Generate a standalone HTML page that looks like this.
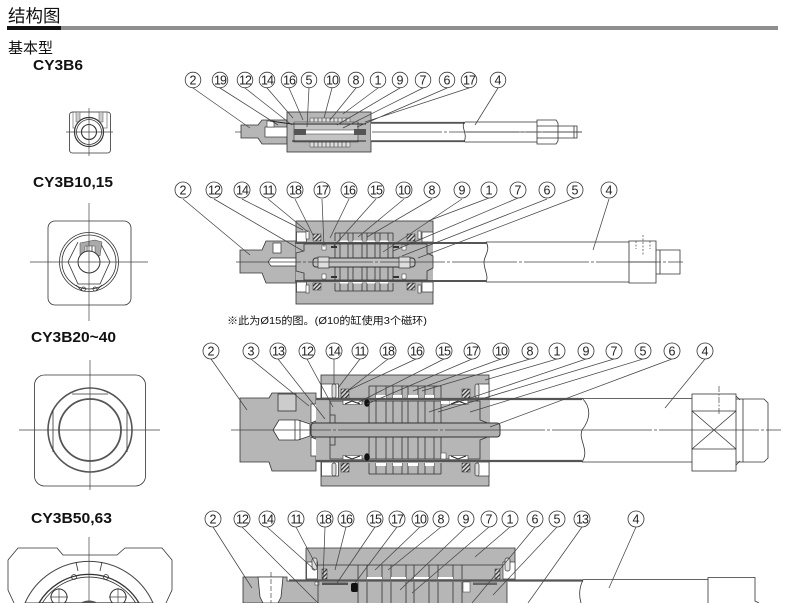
<!DOCTYPE html>
<html lang="zh"><head><meta charset="utf-8"><title>结构图</title>
<style>
html,body{margin:0;padding:0;background:#fff;width:790px;height:603px;overflow:hidden}
svg{display:block;filter:blur(.3px)}
.t{font-family:"Liberation Sans","Noto Sans CJK SC",sans-serif;fill:#111}
.b{font-weight:bold}
.n circle{fill:#fff;stroke:#333;stroke-width:.8}
.n text{font-family:"Liberation Sans",sans-serif;font-size:12.5px;fill:#222;text-anchor:middle}
.l{stroke:#444;stroke-width:.75;fill:none}
.g{fill:#b6b6b6;stroke:#333;stroke-width:.8}
.w{fill:#fff;stroke:#333;stroke-width:.8}
.o{fill:none;stroke:#333;stroke-width:.8}
.c{stroke:#444;stroke-width:.7;fill:none}
</style></head><body>
<svg width="790" height="603" viewBox="0 0 790 603" xmlns="http://www.w3.org/2000/svg">
<defs>
<pattern id="hat" width="3" height="3" patternUnits="userSpaceOnUse" patternTransform="rotate(45)"><rect width="3" height="3" fill="#ddd"/><rect width="1.3" height="3" fill="#333"/></pattern>
</defs>
<rect width="790" height="603" fill="#fff"/>
<!-- header -->
<text class="t" x="8" y="22" font-size="17.5">结构图</text>
<rect x="7" y="26" width="54" height="4" fill="#111"/>
<rect x="61" y="26" width="717" height="4" fill="#8e8e8e"/>
<text class="t" x="8" y="53" font-size="15">基本型</text>
<text class="t b" x="33" y="70" font-size="15" textLength="50" lengthAdjust="spacingAndGlyphs">CY3B6</text>
<text class="t b" x="33" y="187" font-size="15" textLength="80" lengthAdjust="spacingAndGlyphs">CY3B10,15</text>
<text class="t b" x="31" y="342" font-size="15" textLength="85" lengthAdjust="spacingAndGlyphs">CY3B20~40</text>
<text class="t b" x="31" y="523" font-size="15" textLength="81" lengthAdjust="spacingAndGlyphs">CY3B50,63</text>
<text class="t" x="227" y="324" font-size="10.5" fill="#222" textLength="200" lengthAdjust="spacingAndGlyphs">※此为Ø15的图。(Ø10的缸使用3个磁环)</text>

<!-- left views -->
<g>
<rect class="o" x="69.500" y="112" width="41" height="41" rx="3"/>
<rect x="73" y="112" width="34" height="16" fill="none" stroke="#555" stroke-width=".6"/>
<rect x="76" y="112" width="4" height="10" fill="#ccc" stroke="#555" stroke-width=".5"/>
<rect x="99" y="112" width="4" height="10" fill="#ccc" stroke="#555" stroke-width=".5"/>
<circle cx="89" cy="132" r="14.500" fill="#fff" stroke="#333" stroke-width="1.200"/>
<circle cx="89" cy="132" r="12.500" class="o"/>
<circle cx="89" cy="132" r="7.500" fill="#fff" stroke="#333" stroke-width="1.100"/>
<path class="c" d="M66 132H113M89 108V156"/>
</g>
<g>
<rect class="o" x="48" y="221" width="83" height="84" rx="7"/>
<circle cx="89" cy="262" r="29.500" class="o"/>
<circle cx="89" cy="262" r="27" class="o"/>
<path class="o" d="M78 242L68 262L78 284H100L110 262L100 242"/>
<path d="M80 243L95 240L102 242L100 256L95 255L95 246H85L85 256L80 255Z" fill="#aaa" stroke="#444" stroke-width=".5"/>
<path d="M87 246V258M92 246V258" class="o"/>
<circle cx="89" cy="262" r="11" fill="#fff" stroke="#333" stroke-width="1"/>
<path class="o" d="M76 285L82 291M102 285L96 291"/>
<circle cx="83.500" cy="289" r="2" class="o"/><circle cx="95" cy="289" r="2" class="o"/>
<path class="c" d="M30 262H148M89 203V321"/>
</g>
<g>
<rect class="o" x="34.500" y="375" width="111" height="111" rx="10"/>
<circle cx="90" cy="430" r="42" fill="#fff" stroke="#555" stroke-width="1.600"/>
<circle cx="90" cy="430" r="31" fill="#fff" stroke="#555" stroke-width="1.800"/>
<path class="o" d="M53 410V452M127 410V452M72 394H108"/>
<path class="c" d="M19 430H160M90 360V490"/>
</g>
<g>
<path class="o" d="M8 560L18 548H57L63 555H117L125 548H162L172 560V590L166 603M8 560V590L14 603"/>
<path d="M25 603A70 70 0 0 1 153 603Z" fill="#fff" stroke="#444" stroke-width="1"/>
<path class="o" d="M76 562L78 571M102 562L100 571"/>
<path d="M39 603A58 58 0 0 1 139 603Z" fill="#fff" stroke="#333" stroke-width="1.300"/>
<path class="o" d="M42.300 603A55 55 0 0 1 135.700 603"/>
<circle cx="74" cy="577" r="2.500" class="o"/><circle cx="106" cy="577" r="2.500" class="o"/>
<path d="M53.700 603A8 8 0 1 1 64.300 603Z" fill="#fff" stroke="#333" stroke-width="1"/>
<path d="M112.700 603A8 8 0 1 1 123.300 603Z" fill="#fff" stroke="#333" stroke-width="1"/>
<path class="c" d="M50 597H68M59 588V603M109 597H127M118 588V603M89 537V603"/>
<path d="M80 603Q89 598 98 603Z" fill="#555"/>
</g>

<!-- DIAGRAM 1 -->
<g>
<path class="c" d="M235 132H582" stroke-dasharray="70 2 3 2"/>
<path class="g" d="M241 125H258L262 120H287V144H262L258 138H241Z"/>
<rect x="265" y="127" width="24" height="10" fill="#fff" stroke="#333" stroke-width=".7"/>
<rect x="267" y="121" width="7" height="6" fill="#fff" stroke="#333" stroke-width=".6"/>
<rect class="g" x="287" y="112" width="84" height="40"/>
<path d="M310 118h40v5h-40zM310 142h40v5h-40z" fill="#ddd" stroke="#444" stroke-width=".5"/>
<path class="c" d="M314 118v5M318 118v5M322 118v5M326 118v5M330 118v5M334 118v5M338 118v5M342 118v5M346 118v5M314 142v5M318 142v5M322 142v5M326 142v5M330 142v5M334 142v5M338 142v5M342 142v5M346 142v5"/>
<path d="M294 122h64v20h-64z" fill="#c4c4c4" stroke="#333" stroke-width=".6"/>
<rect x="300" y="130" width="60" height="4" fill="#fff" stroke="#333" stroke-width=".5"/>
<rect x="294" y="129" width="12" height="6" fill="#555"/>
<rect x="354" y="129" width="12" height="6" fill="#555"/>
<path d="M292 124H366M292 141H366M270 121L292 124" stroke="#222" stroke-width="1" fill="none"/>
<rect x="371" y="122" width="94" height="20" fill="#fff"/>
<path d="M371 122.800H465M371 141.200H465" stroke="#555" stroke-width="1.800"/>
<path class="o" d="M465 122H537M465 142H537M464 122C461 128 468 134 464 142"/>
<path class="c" d="M372 132H537" stroke-dasharray="70 2 3 2"/>
<path class="o" fill="#fff" d="M537 120H556L558 123V141L556 144H537Z"/>
<path class="o" d="M537 126H558M537 138H558M558 126H577V138H558M574 126V138"/>
<path class="c" d="M537 132H582"/>
<path class="l" d="M193 88L250 128M220 88L278 125M245 88L292 125M267 88L293 118M289 88L303 120M309 88L307 127M332 88L324 118M356 88L330 120M378 88L343 114M400 88L337 125M423 88L343 128M447 88L357 127M469 88L365 122M498 88L475 125"/>
<g class="n">
<circle cx="193" cy="80" r="7.800"/><text x="193" y="84.500">2</text>
<circle cx="220" cy="80" r="7.800"/><text x="220" y="84.500" letter-spacing="-1">19</text>
<circle cx="245" cy="80" r="7.800"/><text x="245" y="84.500" letter-spacing="-1">12</text>
<circle cx="267" cy="80" r="7.800"/><text x="267" y="84.500" letter-spacing="-1">14</text>
<circle cx="289" cy="80" r="7.800"/><text x="289" y="84.500" letter-spacing="-1">16</text>
<circle cx="309" cy="80" r="7.800"/><text x="309" y="84.500">5</text>
<circle cx="332" cy="80" r="7.800"/><text x="332" y="84.500" letter-spacing="-1">10</text>
<circle cx="356" cy="80" r="7.800"/><text x="356" y="84.500">8</text>
<circle cx="378" cy="80" r="7.800"/><text x="378" y="84.500">1</text>
<circle cx="400" cy="80" r="7.800"/><text x="400" y="84.500">9</text>
<circle cx="423" cy="80" r="7.800"/><text x="423" y="84.500">7</text>
<circle cx="447" cy="80" r="7.800"/><text x="447" y="84.500">6</text>
<circle cx="469" cy="80" r="7.800"/><text x="469" y="84.500" letter-spacing="-1">17</text>
<circle cx="498" cy="80" r="7.800"/><text x="498" y="84.500">4</text>
</g>
</g>

<!-- DIAGRAM 2 -->
<g>
<path class="g" d="M240 250H262L266 241H300V283H266L262 273H240Z"/>
<rect x="273" y="243" width="8" height="10" fill="#fff" stroke="#333" stroke-width=".7"/>
<path d="M271 258H300V266H271L268 262Z" fill="#fff" stroke="#333" stroke-width=".7"/>
<rect class="g" x="296" y="221" width="137" height="83"/>
<rect x="296.500" y="232" width="10" height="10" fill="#fff" stroke="#333" stroke-width=".7"/>
<rect x="422" y="232" width="11" height="10" fill="#fff" stroke="#333" stroke-width=".7"/>
<rect x="296.500" y="282" width="10" height="10" fill="#fff" stroke="#333" stroke-width=".7"/>
<rect x="422" y="282" width="11" height="10" fill="#fff" stroke="#333" stroke-width=".7"/>
<rect x="306" y="231" width="3" height="8" fill="#fff" stroke="#333" stroke-width=".6"/>
<rect x="418" y="231" width="3" height="8" fill="#fff" stroke="#333" stroke-width=".6"/>
<rect x="306" y="285" width="3" height="8" fill="#fff" stroke="#333" stroke-width=".6"/>
<rect x="418" y="285" width="3" height="8" fill="#fff" stroke="#333" stroke-width=".6"/>
<rect x="313" y="234" width="8" height="7" fill="url(#hat)" stroke="#333" stroke-width=".5"/>
<rect x="407" y="234" width="8" height="7" fill="url(#hat)" stroke="#333" stroke-width=".5"/>
<rect x="313" y="283" width="8" height="7" fill="url(#hat)" stroke="#333" stroke-width=".5"/>
<rect x="407" y="283" width="8" height="7" fill="url(#hat)" stroke="#333" stroke-width=".5"/>
<path class="o" d="M335 233V241M340 233V241M348 233V241M353 233V241M362 233V241M367 233V241M375 233V241M380 233V241M388 233V241M393 233V241M335 233H393M335 283V291M340 283V291M348 283V291M353 283V291M362 283V291M367 283V291M375 283V291M380 283V291M388 283V291M393 283V291M335 291H393"/>
<rect x="296" y="242" width="137" height="40" fill="#b6b6b6"/>
<rect x="340" y="240.500" width="8" height="2" fill="#fff"/><rect x="353" y="240.500" width="9" height="2" fill="#fff"/><rect x="367" y="240.500" width="8" height="2" fill="#fff"/><rect x="380" y="240.500" width="8" height="2" fill="#fff"/>
<rect x="340" y="281.500" width="8" height="2" fill="#fff"/><rect x="353" y="281.500" width="9" height="2" fill="#fff"/><rect x="367" y="281.500" width="8" height="2" fill="#fff"/><rect x="380" y="281.500" width="8" height="2" fill="#fff"/>
<rect x="433" y="243" width="53" height="38" fill="#fff"/>
<path d="M295 243H486M295 281H486" stroke="#555" stroke-width="2"/>
<path class="g" d="M304 251V244H427V253L433 256V268L427 271V280H304V273L296 271V253Z"/>
<path class="o" d="M335 244V258M340 244V258M348 244V258M353 244V258M362 244V258M367 244V258M375 244V258M380 244V258M388 244V258M393 244V258M335 266V280M340 266V280M348 266V280M353 266V280M362 266V280M367 266V280M375 266V280M380 266V280M388 266V280M393 266V280"/>
<rect x="322" y="245" width="4" height="5" fill="#fff" stroke="#333" stroke-width=".5"/>
<rect x="322" y="274" width="4" height="5" fill="#fff" stroke="#333" stroke-width=".5"/>
<rect x="402" y="245" width="4" height="5" fill="#fff" stroke="#333" stroke-width=".5"/>
<rect x="402" y="274" width="4" height="5" fill="#fff" stroke="#333" stroke-width=".5"/>
<path d="M331 246h6v2h-6zM331 276h6v2h-6zM393 246h6v2h-6zM393 276h6v2h-6z" fill="#333"/>
<rect x="313" y="258" width="102" height="9" rx="3" fill="#c2c2c2" stroke="#333" stroke-width="1"/>
<rect x="318" y="257" width="11" height="11" fill="#ddd" stroke="#333" stroke-width=".7"/>
<rect x="399" y="257" width="11" height="11" fill="#ddd" stroke="#333" stroke-width=".7"/>
<path class="o" d="M486 242H629M486 282H629M486 242C491 250 484 256 484 262C484 270 489 276 486 282"/>
<path class="o" d="M629 241H656V283H629Z" fill="#fff"/>
<path class="o" d="M629 262H656M656 250H680V274H656M660 250V274" />
<path class="c" d="M643 235V256M636 241v8M650 241v8" stroke-dasharray="2 1.500"/>
<path class="c" d="M236 262H683" stroke-dasharray="65 2 3 2"/>
<path class="l" d="M183 199L250 255M214 199L303 251M242 199L303 230M268 199L308 232M295 199L313 235M322 199L324 247M349 199L330 238M376 199L333 247M404 199L358 237M432 199L367 237M462 199L383 252M489 198L428 221M518 198L393 251M547 199L402 256M575 198L418 258M609 199L593 250"/>
<g class="n">
<circle cx="183" cy="190" r="8"/><text x="183" y="194.500">2</text>
<circle cx="214" cy="190" r="8"/><text x="214" y="194.500" letter-spacing="-1">12</text>
<circle cx="242" cy="190" r="8"/><text x="242" y="194.500" letter-spacing="-1">14</text>
<circle cx="268" cy="190" r="8"/><text x="268" y="194.500" letter-spacing="-1">11</text>
<circle cx="295" cy="190" r="8"/><text x="295" y="194.500" letter-spacing="-1">18</text>
<circle cx="322" cy="190" r="8"/><text x="322" y="194.500" letter-spacing="-1">17</text>
<circle cx="349" cy="190" r="8"/><text x="349" y="194.500" letter-spacing="-1">16</text>
<circle cx="376" cy="190" r="8"/><text x="376" y="194.500" letter-spacing="-1">15</text>
<circle cx="404" cy="190" r="8"/><text x="404" y="194.500" letter-spacing="-1">10</text>
<circle cx="432" cy="190" r="8"/><text x="432" y="194.500">8</text>
<circle cx="462" cy="190" r="8"/><text x="462" y="194.500">9</text>
<circle cx="489" cy="190" r="8"/><text x="489" y="194.500">1</text>
<circle cx="518" cy="190" r="8"/><text x="518" y="194.500">7</text>
<circle cx="547" cy="190" r="8"/><text x="547" y="194.500">6</text>
<circle cx="575" cy="190" r="8"/><text x="575" y="194.500">5</text>
<circle cx="609" cy="190" r="8"/><text x="609" y="194.500">4</text>
</g>
</g>

<!-- DIAGRAM 3 -->
<g>
<path class="g" d="M240 398H269L272 393H316V471H272L269 462H240Z"/>
<rect x="278" y="394" width="18" height="17" fill="#ccc" stroke="#333" stroke-width=".8"/>
<path d="M273 430L279 420H298L310 424V436L298 440H279Z" fill="#fff" stroke="#333" stroke-width=".8"/>
<path d="M295 420V440M300 420V440" class="o"/>
<path d="M311 404H329V412L318 420L311 423ZM311 456H329V448L318 440L311 437Z" fill="#fff" stroke="#333" stroke-width=".7"/>
<rect class="g" x="321" y="375" width="168" height="111"/>
<rect x="321.500" y="384" width="17" height="14" fill="#fff" stroke="#333" stroke-width=".7"/>
<rect x="478" y="384" width="11" height="14" fill="#fff" stroke="#333" stroke-width=".7"/>
<rect x="321.500" y="462" width="17" height="14" fill="#fff" stroke="#333" stroke-width=".7"/>
<rect x="478" y="462" width="11" height="14" fill="#fff" stroke="#333" stroke-width=".7"/>
<rect x="332" y="384" width="4" height="14" rx="2" fill="#ddd" stroke="#333" stroke-width=".7"/>
<rect x="475" y="384" width="4" height="14" rx="2" fill="#ddd" stroke="#333" stroke-width=".7"/>
<rect x="332" y="463" width="4" height="13" rx="2" fill="#ddd" stroke="#333" stroke-width=".7"/>
<rect x="475" y="463" width="4" height="13" rx="2" fill="#ddd" stroke="#333" stroke-width=".7"/>
<rect x="341" y="389" width="8" height="9" fill="url(#hat)" stroke="#333" stroke-width=".5"/>
<rect x="462" y="389" width="8" height="9" fill="url(#hat)" stroke="#333" stroke-width=".5"/>
<rect x="341" y="463" width="8" height="9" fill="url(#hat)" stroke="#333" stroke-width=".5"/>
<rect x="462" y="463" width="8" height="9" fill="url(#hat)" stroke="#333" stroke-width=".5"/>
<path class="o" d="M369 386H441M369 474H441M369 386V398M376 386V398M386 386V398M393 386V398M402 386V398M408 386V398M418 386V398M425 386V398M434 386V398M441 386V398M369 463V474M376 463V474M386 463V474M393 463V474M402 463V474M408 463V474M418 463V474M425 463V474M434 463V474M441 463V474"/>
<path d="M376 395h10v3h-10zM393 395h9v3h-9zM408 395h10v3h-10zM425 395h9v3h-9zM376 463h10v3h-10zM393 463h9v3h-9zM408 463h10v3h-10zM425 463h9v3h-9z" fill="#fff"/>
<rect x="316" y="400" width="174" height="60" fill="#b6b6b6"/>
<path d="M316 399H582M316 461H582" stroke="#555" stroke-width="2.200"/>
<path class="g" d="M330 401H480V420L490 424L500 426V434L490 436L480 440V459H330Z"/>
<path class="o" d="M369 401V423M376 401V423M386 401V423M393 401V423M402 401V423M408 401V423M418 401V423M425 401V423M434 401V423M441 401V423M369 437V459M376 437V459M386 437V459M393 437V459M402 437V459M408 437V459M418 437V459M425 437V459M434 437V459M441 437V459M330 415H335V423M330 445H335V437"/>
<path d="M343 400.500H362V404.500H343ZM449 400.500H468V404.500H449ZM343 455.500H362V459.500H343ZM449 455.500H468V459.500H449Z" fill="#fff" stroke="#333" stroke-width=".6"/>
<path d="M345 404L352 401L360 404M451 404L458 401L466 404M345 456L352 459L360 456M451 456L458 459L466 456" stroke="#222" stroke-width="1" fill="none"/>
<ellipse cx="367" cy="403" rx="2.800" ry="3.800" fill="#111"/>
<ellipse cx="367" cy="457" rx="2.800" ry="3.800" fill="#111"/>
<rect x="441" y="453" width="5" height="6" fill="#fff" stroke="#333" stroke-width=".5"/>
<rect x="441" y="401" width="8" height="3" fill="#fff"/>
<rect x="311" y="423" width="189" height="14" rx="3" fill="#b0b0b0" stroke="#333" stroke-width="1"/>
<path class="o" d="M340 423H480M340 437H480" stroke-width="1.200"/>
<path class="o" d="M582 398.500H692M582 462H692M582 398C592 408 590 420 582 430C578 440 590 450 582 462"/>
<rect class="o" x="692" y="394" width="44" height="77" fill="#fff"/>
<path class="o" d="M692 411H736M692 449H736M692 411L736 449M736 411L692 449"/>
<path class="o" d="M736 399H764L768 403V458L764 462H736M743 399V462M736 396L740 400M736 465L740 461"/>
<path class="c" d="M719 386V414" stroke-dasharray="6 1.500 2 1.500"/>
<path class="c" d="M231 430H781" stroke-dasharray="100 2 3 2"/>
<path class="l" d="M211 359L247 410M251 359L309 406M278 359L325 419M307 359L333 407M334 359V384M360 359L338 388M388 359L346 392M416 359L349 390M444 359L357 403M472 359L367 404M501 359L413 391M530 359L422 391M557 359L485 380M586 359L429 412M614 359L438 412M643 359L470 412M672 359L490 427M705 359L665 408"/>
<g class="n">
<circle cx="211" cy="351" r="8"/><text x="211" y="355.500">2</text>
<circle cx="251" cy="351" r="8"/><text x="251" y="355.500">3</text>
<circle cx="278" cy="351" r="8"/><text x="278" y="355.500" letter-spacing="-1">13</text>
<circle cx="307" cy="351" r="8"/><text x="307" y="355.500" letter-spacing="-1">12</text>
<circle cx="334" cy="351" r="8"/><text x="334" y="355.500" letter-spacing="-1">14</text>
<circle cx="360" cy="351" r="8"/><text x="360" y="355.500" letter-spacing="-1">11</text>
<circle cx="388" cy="351" r="8"/><text x="388" y="355.500" letter-spacing="-1">18</text>
<circle cx="416" cy="351" r="8"/><text x="416" y="355.500" letter-spacing="-1">16</text>
<circle cx="444" cy="351" r="8"/><text x="444" y="355.500" letter-spacing="-1">15</text>
<circle cx="472" cy="351" r="8"/><text x="472" y="355.500" letter-spacing="-1">17</text>
<circle cx="501" cy="351" r="8"/><text x="501" y="355.500" letter-spacing="-1">10</text>
<circle cx="530" cy="351" r="8"/><text x="530" y="355.500">8</text>
<circle cx="557" cy="351" r="8"/><text x="557" y="355.500">1</text>
<circle cx="586" cy="351" r="8"/><text x="586" y="355.500">9</text>
<circle cx="614" cy="351" r="8"/><text x="614" y="355.500">7</text>
<circle cx="643" cy="351" r="8"/><text x="643" y="355.500">5</text>
<circle cx="672" cy="351" r="8"/><text x="672" y="355.500">6</text>
<circle cx="705" cy="351" r="8"/><text x="705" y="355.500">4</text>
</g>
</g>

<!-- DIAGRAM 4 -->
<g>
<path class="g" d="M306 548H515V580H306Z"/>
<rect x="306.500" y="562" width="11" height="17" fill="#fff" stroke="#333" stroke-width=".7"/>
<rect x="503" y="562" width="12" height="17" fill="#fff" stroke="#333" stroke-width=".7"/>
<rect x="312" y="558" width="5" height="12" rx="2" fill="#ddd" stroke="#333" stroke-width=".7"/>
<rect x="505" y="558" width="5" height="13" rx="2" fill="#ddd" stroke="#333" stroke-width=".7"/>
<rect x="322" y="569" width="5" height="10" fill="url(#hat)" stroke="#333" stroke-width=".5"/>
<rect x="495" y="569" width="5" height="10" fill="url(#hat)" stroke="#333" stroke-width=".5"/>
<path class="o" d="M317 565H503M358 565V579M367 565V579M382 565V579M391 565V579M406 565V579M414 565V579M429 565V579M438 565V579M453 565V579M462 565V579"/>
<path d="M367 577h15v2h-15zM391 577h15v2h-15zM414 577h15v2h-15zM438 577h15v2h-15z" fill="#fff"/>
<path class="g" d="M243 577H287V581H318V603H243Z"/>
<path d="M258 577H283L281 597L278 603H263L260 597Z" fill="#fff" stroke="#333" stroke-width=".8"/>
<path d="M271 572V603" class="c" stroke-dasharray="5 2"/>
<rect x="316" y="581" width="191" height="22" fill="#b6b6b6"/>
<path d="M289 580.500H583" stroke="#555" stroke-width="2.200"/>
<rect x="315" y="582" width="4" height="3" fill="#fff" stroke="#333" stroke-width=".5"/>
<rect x="322" y="582.500" width="26" height="2.500" fill="#555"/>
<rect x="351" y="583" width="7" height="9" rx="2" fill="#111"/>
<rect x="473" y="582.500" width="24" height="2.500" fill="#666"/>
<rect x="463" y="582" width="7" height="10" fill="#fff" stroke="#333" stroke-width=".5"/>
<path class="o" d="M358 582V603M367 582V603M382 582V603M391 582V603M406 582V603M414 582V603M429 582V603M438 582V603M453 582V603M462 582V603M507 582V603M318 582V603"/>
<path class="o" d="M583 579.500H708M583 580C579 588 579 596 581 603"/>
<path class="o" d="M708 603V577.500H755V601L759 603"/>
<path class="l" d="M213 527L252 588M242 527L318 603M267 527L315 570M296 527L317 567M325 527L323 580M346 527L335 570M375 527L337 583M397 527L355 583M420 527L375 570M441 527L388 570M466 527L400 590M489 527L412 593M510 527L475 557M535 527L472 603M557 527L493 595M582 527L528 603M636 527L609 588"/>
<g class="n">
<circle cx="213" cy="519" r="8"/><text x="213" y="523.500">2</text>
<circle cx="242" cy="519" r="8"/><text x="242" y="523.500" letter-spacing="-1">12</text>
<circle cx="267" cy="519" r="8"/><text x="267" y="523.500" letter-spacing="-1">14</text>
<circle cx="296" cy="519" r="8"/><text x="296" y="523.500" letter-spacing="-1">11</text>
<circle cx="325" cy="519" r="8"/><text x="325" y="523.500" letter-spacing="-1">18</text>
<circle cx="346" cy="519" r="8"/><text x="346" y="523.500" letter-spacing="-1">16</text>
<circle cx="375" cy="519" r="8"/><text x="375" y="523.500" letter-spacing="-1">15</text>
<circle cx="397" cy="519" r="8"/><text x="397" y="523.500" letter-spacing="-1">17</text>
<circle cx="420" cy="519" r="8"/><text x="420" y="523.500" letter-spacing="-1">10</text>
<circle cx="441" cy="519" r="8"/><text x="441" y="523.500">8</text>
<circle cx="466" cy="519" r="8"/><text x="466" y="523.500">9</text>
<circle cx="489" cy="519" r="8"/><text x="489" y="523.500">7</text>
<circle cx="510" cy="519" r="8"/><text x="510" y="523.500">1</text>
<circle cx="535" cy="519" r="8"/><text x="535" y="523.500">6</text>
<circle cx="557" cy="519" r="8"/><text x="557" y="523.500">5</text>
<circle cx="582" cy="519" r="8"/><text x="582" y="523.500" letter-spacing="-1">13</text>
<circle cx="636" cy="519" r="8"/><text x="636" y="523.500">4</text>
</g>
</g>
</svg>
</body></html>
